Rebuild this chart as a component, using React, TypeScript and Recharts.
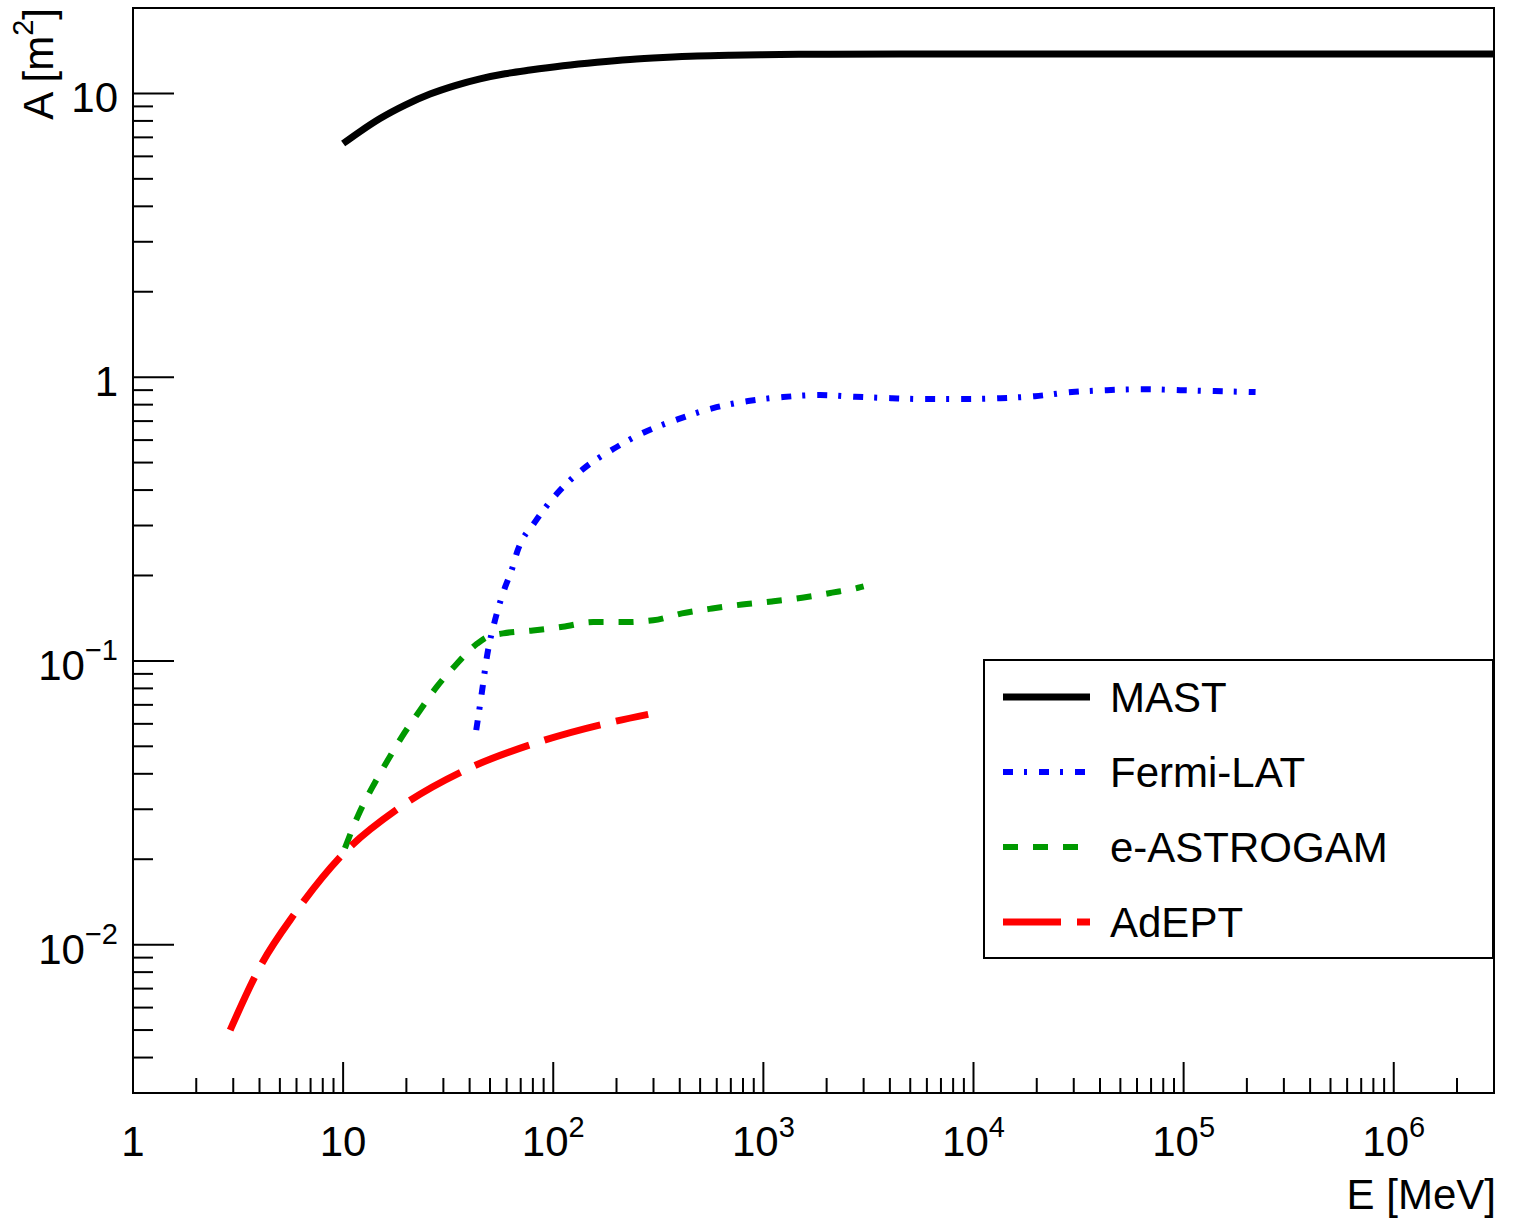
import React from 'react';
import { LineChart, Line, XAxis, YAxis, ReferenceArea } from 'recharts';

// ---------------- data ----------------
const seriesNames = ['MAST', 'Fermi-LAT', 'e-ASTROGAM', 'AdEPT'];

const mastE = [10, 12.03, 14.98, 19.71, 25.92, 34.09, 44.83, 58.96, 77.55, 111.3, 161.6, 232.1, 333.2, 483.6, 694.1, 1201, 2077, 4474, 1e4, 1e5, 1e6, 3e6];
const mastA = [6.66, 7.34, 8.16, 9.10, 9.95, 10.66, 11.26, 11.73, 12.09, 12.52, 12.88, 13.17, 13.38, 13.55, 13.64, 13.71, 13.75, 13.77, 13.77, 13.77, 13.77, 13.77];

const fermiE = [43, 45.8, 48.4, 52.8, 59, 63.7, 67.3, 81.9, 104, 139, 193, 273, 393, 576, 846, 1241, 1862, 2730, 4100, 6010, 8920, 13400, 19600, 29400, 43200, 64100, 96200, 141000, 220000];
const fermiA = [0.057, 0.078, 0.104, 0.139, 0.182, 0.211, 0.242, 0.309, 0.388, 0.475, 0.558, 0.641, 0.711, 0.778, 0.824, 0.851, 0.865, 0.853, 0.843, 0.837, 0.837, 0.843, 0.857, 0.886, 0.9, 0.907, 0.9, 0.893, 0.886];

const astroE = [10.2, 11.8, 13.7, 16.2, 19.1, 23.2, 28, 34.1, 43.4, 48, 57.7, 80, 111, 155, 215, 299, 410, 570, 792, 1097, 1528, 2124, 2825, 3000];
const astroA = [0.0219, 0.0286, 0.0356, 0.0443, 0.0542, 0.0669, 0.0813, 0.0962, 0.115, 0.121, 0.125, 0.128, 0.132, 0.137, 0.137, 0.139, 0.147, 0.153, 0.158, 0.162, 0.167, 0.174, 0.181, 0.183];

const adeptE = [2.9, 4.11, 5.9, 9.88, 18.66, 38.0, 82.0, 180.0, 283.0];
const adeptA = [0.0050, 0.0086, 0.0129, 0.0207, 0.0305, 0.0412, 0.0513, 0.0603, 0.0648];

// tick labels / positions
const xMajor = [1, 10, 100, 1e3, 1e4, 1e5, 1e6];
const yMajor = [0.01, 0.1, 1, 10];
const minorMult = [2, 3, 4, 5, 6, 7, 8, 9];
const xDomain = [1, 3e6];
const yDomain = [0.003, 20];

const xTicks: number[] = [];
xMajor.forEach((m) => {
  xTicks.push(m);
  minorMult.forEach((k) => { if (m * k <= xDomain[1]) xTicks.push(m * k); });
});
const yTicks: number[] = [];
[0.001, ...yMajor].forEach((m) => {
  [1, ...minorMult].forEach((k) => {
    const v = m * k;
    if (v >= yDomain[0] * 0.999 && v <= yDomain[1] * 1.001) yTicks.push(v);
  });
});

const toPts = (E: number[], A: number[]) => E.map((e, i) => ({ E: e, A: A[i] }));
const mastData = toPts(mastE, mastA);
const fermiData = toPts(fermiE, fermiA);
const astroData = toPts(astroE, astroA);
const adeptData = toPts(adeptE, adeptA);

// ---------------- styles ----------------
const FONT = '"Liberation Sans", Arial, Helvetica, sans-serif';
const FS = 42;
const SUP = 29;
const styles = [
  { color: '#000000', width: 7, dash: undefined as string | undefined },
  { color: '#0000ff', width: 6, dash: '10 11 3 12' },
  { color: '#009900', width: 6, dash: '15 15' },
  { color: '#ff0000', width: 7, dash: '58 16' },
];

const isMajor = (v: number) => {
  const l = Math.log10(v);
  return Math.abs(l - Math.round(l)) < 1e-6;
};

const powLabel = (v: number) => Math.round(Math.log10(v));

const XTick = (props: any) => {
  const { x, y, payload } = props;
  const v = payload.value;
  const major = isMajor(v);
  const len = major ? 31 : 15;
  const e = powLabel(v);
  return (
    <g>
      <line x1={x} x2={x} y1={y} y2={y - len} stroke="#000" strokeWidth={2} />
      {major && (
        <text x={x} y={y + 63} textAnchor="middle" fontFamily={FONT} fontSize={FS} fill="#000">
          {e === 0 ? '1' : e === 1 ? '10' : (
            <>
              10<tspan dy={-19} fontSize={SUP}>{e < 0 ? '\u2212' + String(-e) : String(e)}</tspan>
            </>
          )}
        </text>
      )}
    </g>
  );
};

const YTick = (props: any) => {
  const { x, y, payload } = props;
  const v = payload.value;
  const major = isMajor(v);
  const len = major ? 41 : 20;
  const e = powLabel(v);
  return (
    <g>
      <line x1={x} x2={x + len} y1={y} y2={y} stroke="#000" strokeWidth={2} />
      {major && (
        <text x={118} y={y + 19} textAnchor="end" fontFamily={FONT} fontSize={FS} fill="#000">
          {e === 0 ? '1' : e === 1 ? '10' : (
            <>
              10<tspan dy={-20} fontSize={SUP}>{e < 0 ? '\u2212' + String(-e) : String(e)}</tspan>
            </>
          )}
        </text>
      )}
    </g>
  );
};

const rowsY = [697, 772, 847, 922];

export default function App() {
  return (
    <div style={{ position: 'absolute', left: 0, top: 0, width: 1513, height: 1220, background: '#fff' }}>
      <LineChart
        width={1513}
        height={1220}
        margin={{ top: 8, right: 19, bottom: 0, left: 0 }}
      >
        <XAxis
          dataKey="E"
          type="number"
          scale="log"
          domain={xDomain}
          allowDataOverflow
          ticks={xTicks}
          interval={0}
          tick={<XTick />}
          tickLine={false}
          tickSize={0}
          tickMargin={0}
          height={127}
          axisLine={false}
        />
        <YAxis
          dataKey="A"
          type="number"
          scale="log"
          domain={yDomain}
          allowDataOverflow
          ticks={yTicks}
          interval={0}
          tick={<YTick />}
          tickLine={false}
          tickSize={0}
          tickMargin={0}
          width={133}
          axisLine={false}
        />
        <Line data={mastData} dataKey="A" name={seriesNames[0]} type="monotone" stroke={styles[0].color} strokeWidth={styles[0].width} dot={false} isAnimationActive={false} />
        <Line data={fermiData} dataKey="A" name={seriesNames[1]} type="monotone" stroke={styles[1].color} strokeWidth={styles[1].width} strokeDasharray={styles[1].dash} dot={false} isAnimationActive={false} />
        <Line data={astroData} dataKey="A" name={seriesNames[2]} type="monotone" stroke={styles[2].color} strokeWidth={styles[2].width} strokeDasharray={styles[2].dash} dot={false} isAnimationActive={false} />
        <Line data={adeptData} dataKey="A" name={seriesNames[3]} type="monotone" stroke={styles[3].color} strokeWidth={styles[3].width} strokeDasharray={styles[3].dash} dot={false} isAnimationActive={false} />
        <ReferenceArea x1={xDomain[0]} x2={xDomain[1]} y1={yDomain[0]} y2={yDomain[1]} fill="none" stroke="#000" strokeWidth={2} ifOverflow="visible" />
      </LineChart>
      <svg width={1513} height={1220} style={{ position: 'absolute', left: 0, top: 0, pointerEvents: 'none' }}>
        {/* axis titles */}
        <text x={1496} y={1209} textAnchor="end" fontFamily={FONT} fontSize={FS} fill="#000">E [MeV]</text>
        <text x={53} y={8} textAnchor="end" transform="rotate(-90 53 8)" fontFamily={FONT} fontSize={FS} fill="#000">
          A [m<tspan dy={-20} fontSize={SUP}>2</tspan><tspan dy={20}>]</tspan>
        </text>
        {/* legend */}
        <rect x={984} y={660} width={509} height={298} fill="#fff" stroke="#000" strokeWidth={2} />
        {seriesNames.map((n, i) => (
          <g key={n}>
            <line x1={1003} x2={1090} y1={rowsY[i]} y2={rowsY[i]} stroke={styles[i].color} strokeWidth={styles[i].width} strokeDasharray={styles[i].dash} />
            <text x={1110} y={rowsY[i] + 15} fontFamily={FONT} fontSize={FS} fill="#000">{n}</text>
          </g>
        ))}
      </svg>
    </div>
  );
}
